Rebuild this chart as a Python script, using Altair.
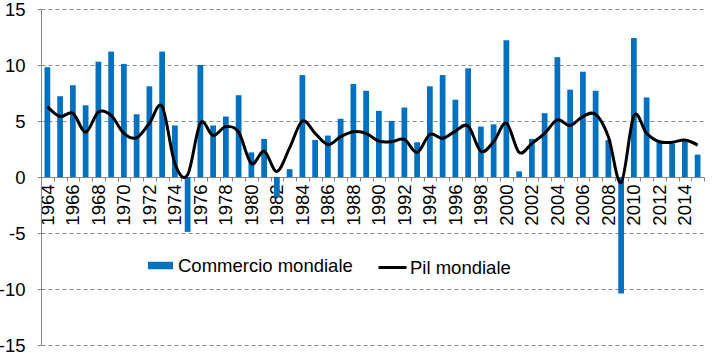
import altair as alt
import pandas as pd

anni = list(range(1964, 2016))
commercio = [9.8, 7.2, 8.2, 6.4, 10.3, 11.2, 10.1, 5.6, 8.1, 11.2,
             4.6, -4.9, 10.0, 4.6, 5.4, 7.3, 2.2, 3.4, -1.8, 0.7,
             9.1, 3.3, 3.7, 5.2, 8.3, 7.7, 5.9, 5.0, 6.2, 3.1,
             8.1, 9.1, 6.9, 9.7, 4.5, 4.7, 12.2, 0.5, 3.4, 5.7,
             10.7, 7.8, 9.4, 7.7, 3.3, -10.4, 12.4, 7.1, 3.1, 3.0,
             3.3, 2.0]
pil = [6.3, 5.4, 5.7, 4.0, 5.8, 5.5, 3.9, 3.5, 4.8, 6.3,
       1.2, 0.2, 4.8, 3.7, 4.5, 4.0, 1.2, 2.3, 0.5, 2.6,
       5.0, 3.9, 2.9, 3.6, 4.05, 3.9, 3.2, 3.15, 3.35, 2.2,
       3.8, 3.45, 4.1, 4.55, 2.3, 3.15, 4.8, 2.2, 3.0, 3.9,
       5.1, 4.6, 5.4, 5.6, 3.6, -0.5, 5.45, 3.9, 3.15, 3.1,
       3.3, 2.85]
serie = ["Commercio mondiale", "Pil mondiale"]
colori = ["#0070C0", "#000000"]

df = pd.DataFrame({"anno": anni, "commercio": commercio, "pil": pil})

FONT = "Liberation Sans"
FS = 18.5

x_axis = alt.Axis(
    title=None, orient="bottom", offset=-168, labelAngle=270,
    labelExpr="datum.value % 2 == 0 ? datum.label : ''",
    labelOverlap=False, labelFlush=False, labelBound=False,
    tickBand="extent", tickSize=4, tickColor="#868686",
    domainColor="#868686", domainWidth=1, labelPadding=3,
    labelFont=FONT, labelFontSize=FS, labelColor="black", grid=False,
)
y_axis = alt.Axis(
    title=None, values=[-15, -10, -5, 0, 5, 10, 15], tickSize=4,
    tickColor="#868686", domainColor="#868686", labelPadding=12,
    labelExpr="'' + datum.value",
    labelFont=FONT, labelFontSize=FS, labelColor="black",
    grid=True, gridColor="#8c8c8c", gridDash=[4, 3], gridWidth=1,
)
x_scale = alt.Scale(paddingInner=0, paddingOuter=0)
y_scale = alt.Scale(domain=[-15, 15], nice=False)

bars = alt.Chart(df).transform_calculate(
    serie="'Commercio mondiale'"
).mark_bar(width=alt.RelativeBandSize(0.45)).encode(
    x=alt.X("anno:O", scale=x_scale, axis=x_axis),
    y=alt.Y("commercio:Q", scale=y_scale, axis=y_axis),
    color=alt.Color(
        "serie:N",
        scale=alt.Scale(domain=serie[:1], range=colori[:1]),
        legend=alt.Legend(
            title=None, orient="none", legendX=106, legendY=243,
            symbolType="M-1,-0.3H1V0.3H-1Z", symbolSize=625,
            symbolOpacity=1, labelOffset=4, padding=0, labelLimit=0,
            labelFont=FONT, labelFontSize=FS, labelColor="black",
        ),
    ),
)

line = alt.Chart(df).transform_calculate(
    serie2="'Pil mondiale'"
).mark_line(strokeWidth=3, interpolate="cardinal").encode(
    x=alt.X("anno:O", scale=x_scale, axis=x_axis, bandPosition=0.5),
    y=alt.Y("pil:Q", scale=y_scale, axis=y_axis),
    stroke=alt.Stroke(
        "serie2:N",
        scale=alt.Scale(domain=serie[1:], range=colori[1:]),
        legend=alt.Legend(
            title=None, orient="none", legendX=336, legendY=243,
            symbolType="stroke", symbolSize=784, symbolStrokeWidth=3,
            labelOffset=2, padding=0, labelLimit=0,
            labelFont=FONT, labelFontSize=FS, labelColor="black",
        ),
    ),
)

chart = alt.layer(bars, line).properties(
    width=663, height=336, autosize="none",
    padding={"left": 41, "top": 9, "right": 14, "bottom": 8},
).configure_view(stroke=None).resolve_legend(color="independent", stroke="independent")

chart.save("out.html", embed_options={"renderer": "svg", "actions": False})
